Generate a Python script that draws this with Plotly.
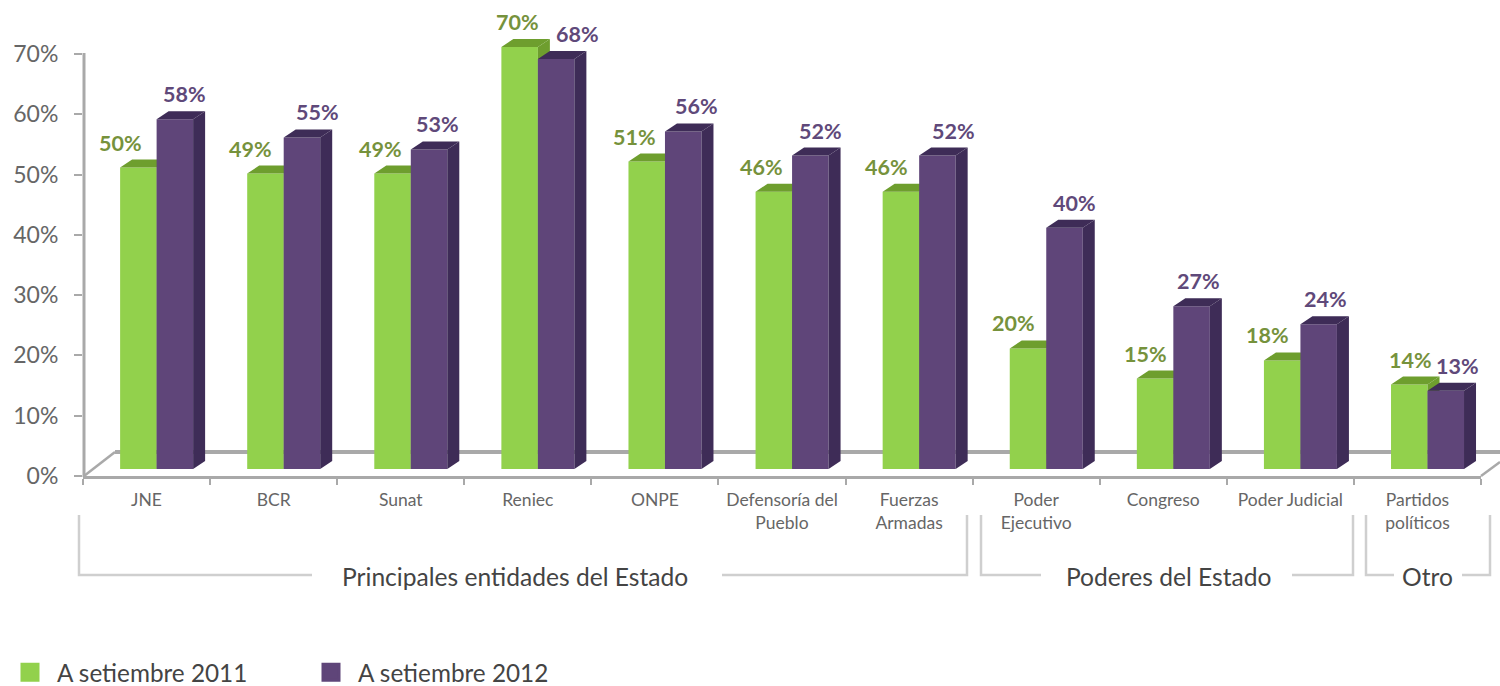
import plotly.graph_objects as go

categories = ["JNE", "BCR", "Sunat", "Reniec", "ONPE", "Defensoría del<br>Pueblo", "Fuerzas<br>Armadas",
              "Poder<br>Ejecutivo", "Congreso", "Poder Judicial", "Partidos<br>políticos"]
values_2011 = [50, 49, 49, 70, 51, 46, 46, 20, 15, 18, 14]
values_2012 = [58, 55, 53, 68, 56, 52, 52, 40, 27, 24, 13]
series_names = ["A setiembre 2011", "A setiembre 2012"]
y_ticks = [0, 10, 20, 30, 40, 50, 60, 70]

FONT = "Lato"
L, R, T, B = 83, 1481, 10, 476
W, H = 1500, 686
PX_PER_CAT = (R - L) / 11
PX_PER_UNIT = (476 - 54) / 70
Y_MAX = (B - T) / PX_PER_UNIT
BASE = 7 / PX_PER_UNIT
BAR_W = 36.5 / PX_PER_CAT
OFFSET = -0.208
DX = 12 / PX_PER_CAT
DY = 8 / PX_PER_UNIT
GREEN, GREEN_TOP, GREEN_SIDE = "#92D14C", "#6E9E2E", "#6E9E2E"
PURPLE, PURPLE_DARK = "#5F4579", "#3E2C57"
GREEN_TXT, PURPLE_TXT = "#76923C", "#5F497A"
GREY = "#A9A9A9"
dx_2011 = [-18, -15, -12, -2, -12, -12, -14, -15, -10, -15, 1]
dx_2012 = [10, 16, 8, 21, 13, 10, 16, 10, 7, 7, 12]


def px(x):
    return (x - L) / (R - L)


def py(y):
    return (B - y) / (B - T)


def faces(values, offset):
    top_x, top_y, side_x, side_y = [], [], [], []
    for i, v in enumerate(values):
        x0, x1 = i + offset, i + offset + BAR_W
        y0, y1 = BASE, BASE + v
        top_x += [x0, x0 + DX, x1 + DX, x1, x0, None]
        top_y += [y1, y1 + DY, y1 + DY, y1, y1, None]
        side_x += [x1, x1 + DX, x1 + DX, x1, x1, None]
        side_y += [y0, y0 + DY, y1 + DY, y1, y0, None]
    return top_x, top_y, side_x, side_y


def add_series(fig, values, offset, front, top, side, name, xa, ya):
    fig.add_trace(go.Bar(x=list(range(len(values))), y=values, base=BASE, width=BAR_W, offset=offset,
                         marker=dict(color=front, line=dict(width=0)), name=name, showlegend=False,
                         cliponaxis=False, xaxis=xa, yaxis=ya))
    tx, ty, sx, sy = faces(values, offset)
    for fx, fy, col in ((sx, sy, side), (tx, ty, top)):
        fig.add_trace(go.Scatter(x=fx, y=fy, mode="lines", fill="toself", fillcolor=col,
                                 line=dict(width=0), hoverinfo="skip", showlegend=False,
                                 cliponaxis=False, xaxis=xa, yaxis=ya))


fig = go.Figure()
add_series(fig, values_2011, OFFSET, GREEN, GREEN_TOP, GREEN_SIDE, series_names[0], "x", "y")
add_series(fig, values_2012, OFFSET + BAR_W, PURPLE, PURPLE_DARK, PURPLE_DARK, series_names[1], "x2", "y2")

for name, col in zip(series_names, (GREEN, PURPLE)):
    fig.add_trace(go.Scatter(x=[None], y=[None], mode="markers", name=name,
                             marker=dict(symbol="square", size=17, color=col, line=dict(color=col, width=3))))

ann = []
for i, (a, b) in enumerate(zip(values_2011, values_2012)):
    ann.append(dict(x=i + OFFSET + BAR_W / 2, y=BASE + a, text=f"{a}%", xshift=dx_2011[i], yshift=25,
                    showarrow=False, xanchor="center", yanchor="middle",
                    font=dict(family=FONT, size=21.5, color=GREEN_TXT, weight="bold")))
    ann.append(dict(x=i + OFFSET + 1.5 * BAR_W, y=BASE + b, text=f"{b}%", xshift=dx_2012[i], yshift=25,
                    showarrow=False, xanchor="center", yanchor="middle",
                    font=dict(family=FONT, size=21.5, color=PURPLE_TXT, weight="bold")))
for text, cx in (("Principales entidades del Estado", 515), ("Poderes del Estado", 1168), ("Otro", 1427)):
    ann.append(dict(xref="paper", yref="paper", x=px(cx), y=py(576), text=text, showarrow=False,
                    xanchor="center", yanchor="middle", font=dict(family=FONT, size=24.6, color="#444444")))

BR = "#CFCFCF"
brackets = [
    [(79, 515), (79, 575), (312, 575)], [(722, 575), (967, 575), (967, 515)],
    [(981, 515), (981, 575), (1041, 575)], [(1292, 575), (1353, 575), (1353, 515)],
    [(1366, 515), (1366, 575), (1394, 575)], [(1462, 575), (1490, 575), (1490, 515)],
]
shapes = []
for pts in brackets:
    path = "M" + " L".join(f"{px(x):.5f},{py(y):.5f}" for x, y in pts)
    shapes.append(dict(type="path", xref="paper", yref="paper", path=path, line=dict(color=BR, width=2.5)))
for (x0, y0, x1, y1, w) in [(115, 452, 1500, 452, 4), (84, 476, 115, 452, 2.5), (R, 476, 1500, 462, 2.5),
                            (84, 477, 84, 53, 3)]:
    shapes.append(dict(type="line", xref="paper", yref="paper", layer="below",
                       x0=px(x0), x1=px(x1), y0=py(y0), y1=py(y1), line=dict(color=GREY, width=w)))

fig.update_layout(
    width=W, height=H, margin=dict(l=L, r=W - R, t=T, b=H - B, autoexpand=False),
    paper_bgcolor="white", plot_bgcolor="white", barmode="overlay", showlegend=True,
    font=dict(family=FONT, color="#666666"), annotations=ann, shapes=shapes,
    legend=dict(orientation="h", xref="container", yref="container", x=3 / W, y=1 - 650 / H,
                xanchor="left", yanchor="top", itemwidth=44,
                entrywidth=242, entrywidthmode="pixels", itemsizing="trace",
                font=dict(family=FONT, size=24.3, color="#444444"), bgcolor="rgba(0,0,0,0)"),
    xaxis=dict(range=[-0.5, 10.5], tickmode="array", tickvals=list(range(11)), ticktext=categories,
               ticks="", tickangle=0, showgrid=False, zeroline=False, showline=True, linecolor=GREY, linewidth=2.5,
               tickfont=dict(family=FONT, size=17.5, color="#666666"), ticklabelstandoff=6,
               minor=dict(tickmode="array", tickvals=[i - 0.5 for i in range(12)], ticks="outside",
                          ticklen=6, tickwidth=2, tickcolor=GREY, showgrid=False)),
    yaxis=dict(range=[0, Y_MAX], tickmode="array", tickvals=y_ticks, ticktext=[f"{v}%" for v in y_ticks],
               ticks="outside", ticklen=8, tickwidth=2, tickcolor=GREY, showgrid=False, zeroline=False,
               showline=False, ticklabelstandoff=11,
               tickfont=dict(family=FONT, size=23, color="#666666")),
    xaxis2=dict(overlaying="x", matches="x", visible=False),
    yaxis2=dict(overlaying="y", matches="y", visible=False),
)
fig.write_html("out.html", post_script="document.body.style.margin='0';", config=dict(displayModeBar=False))
